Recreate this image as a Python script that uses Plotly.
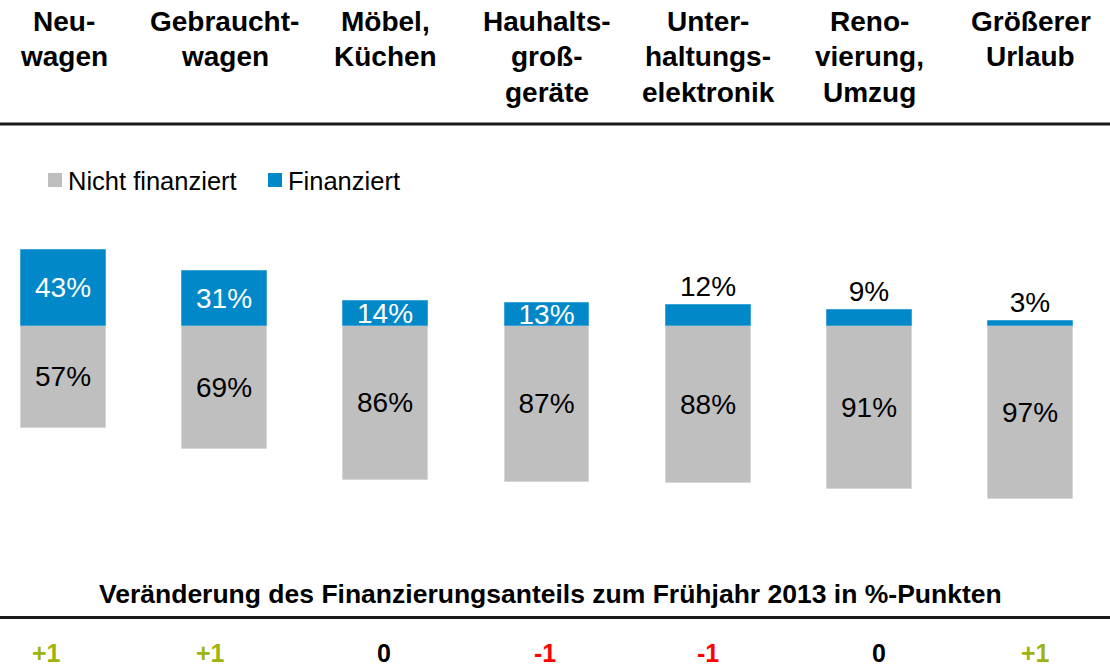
import plotly.graph_objects as go

# ---- data ----
categories = ["Neuwagen", "Gebrauchtwagen", "Möbel, Küchen", "Haushaltsgroßgeräte",
              "Unterhaltungselektronik", "Renovierung, Umzug", "Größerer Urlaub"]
header_lines = [["Neu-", "wagen"], ["Gebraucht-", "wagen"], ["Möbel,", "Küchen"],
                ["Hauhalts-", "groß-", "geräte"], ["Unter-", "haltungs-", "elektronik"],
                ["Reno-", "vierung,", "Umzug"], ["Größerer", "Urlaub"]]
financed = [43, 31, 14, 13, 12, 9, 3]
not_financed = [57, 69, 86, 87, 88, 91, 97]
change = [1, 1, 0, -1, -1, 0, 1]
legend_labels = ["Nicht finanziert", "Finanziert"]
subtitle = "Veränderung des Finanzierungsanteils zum Frühjahr 2013 in %-Punkten"

# ---- styles ----
W, H = 1110, 667
BLUE = "#0088C8"
GRAY = "#BFBFBF"
GREEN = "#9DB40E"
RED = "#FF0000"
FONT = "Liberation Sans, Arial, sans-serif"
change_shift = [-17, -14, -2, -2, 0, 10, 5]  # label nudges in pixels

def py(p):
    return 1 - p / H

xs = list(range(len(categories)))

fig = go.Figure()
fig.add_trace(go.Bar(
    x=xs, y=[-v for v in not_financed], name=legend_labels[0],
    marker=dict(color=GRAY, line=dict(color="#D6D6D6", width=1)),
    text=[f"{v}%" for v in not_financed], textposition="inside",
    insidetextanchor="middle", constraintext="none",
    insidetextfont=dict(family=FONT, size=28, color="black"),
    width=0.527, hoverinfo="skip", showlegend=False,
))
fig.add_trace(go.Bar(
    x=xs, y=financed, name=legend_labels[1],
    marker=dict(color=BLUE, line=dict(color="#3EA3D6", width=1)),
    text=[f"{v}%" for v in financed],
    textposition=["inside" if v >= 13 else "outside" for v in financed],
    insidetextanchor="middle", constraintext="none", cliponaxis=False,
    insidetextfont=dict(family=FONT, size=28, color="white"),
    outsidetextfont=dict(family=FONT, size=28, color="black"),
    width=0.527, hoverinfo="skip", showlegend=False,
))

annotations = []
# header lines
line_centers = [21.5, 57, 92.5]
for i, lines in enumerate(header_lines):
    for j, t in enumerate(lines):
        annotations.append(dict(
            x=xs[i], xref="x", y=py(line_centers[j]), yref="paper",
            text=f"<b>{t}</b>", showarrow=False, xanchor="center", yanchor="middle",
            font=dict(family=FONT, size=28, color="black"),
        ))

# legend
leg_items = [(48, GRAY, legend_labels[0]), (268, BLUE, legend_labels[1])]
shapes = []
for x0, col, lab in leg_items:
    shapes.append(dict(type="rect", xref="paper", yref="paper",
                       x0=x0 / W, x1=(x0 + 14) / W, y0=py(187), y1=py(173),
                       fillcolor=col, line=dict(width=0)))
    annotations.append(dict(
        x=(x0 + 18) / W, xref="paper", y=py(181), yref="paper", text=lab,
        showarrow=False, xanchor="left", yanchor="middle",
        font=dict(family=FONT, size=25.5, color="black"),
    ))

# subtitle
annotations.append(dict(
    x=550.5 / W, xref="paper", y=py(594), yref="paper", text=f"<b>{subtitle}</b>",
    showarrow=False, xanchor="center", yanchor="middle",
    font=dict(family=FONT, size=26.5, color="black"),
))

# change values
for i, c in enumerate(change):
    txt = f"+{c}" if c > 0 else str(c)
    col = GREEN if c > 0 else (RED if c < 0 else "black")
    annotations.append(dict(
        x=xs[i], xref="x", xshift=change_shift[i], y=py(653), yref="paper",
        text=f"<b>{txt}</b>",
        showarrow=False, xanchor="center", yanchor="middle",
        font=dict(family=FONT, size=25, color=col),
    ))

# horizontal rules
for yline in (124, 617.5):
    shapes.append(dict(type="line", xref="paper", yref="paper", x0=0, x1=1,
                       y0=py(yline), y1=py(yline), line=dict(color="#1A1A1A", width=3)))

px_per_unit = 161.17
x0 = -63.5 / px_per_unit
x1 = x0 + W / px_per_unit
px_per_pct = 1.785
base = 326.3
y_top = base / px_per_pct
y_bot = -(H - base) / px_per_pct

fig.update_layout(
    width=W, height=H, margin=dict(l=0, r=0, t=0, b=0),
    paper_bgcolor="white", plot_bgcolor="white",
    barmode="relative", bargap=0,
    xaxis=dict(range=[x0, x1], visible=False, fixedrange=True),
    yaxis=dict(range=[y_bot, y_top], visible=False, fixedrange=True),
    annotations=annotations, shapes=shapes, showlegend=False,
)

fig.write_html("out.html", config={"displayModeBar": False},
               post_script="document.body.style.margin='0';")
